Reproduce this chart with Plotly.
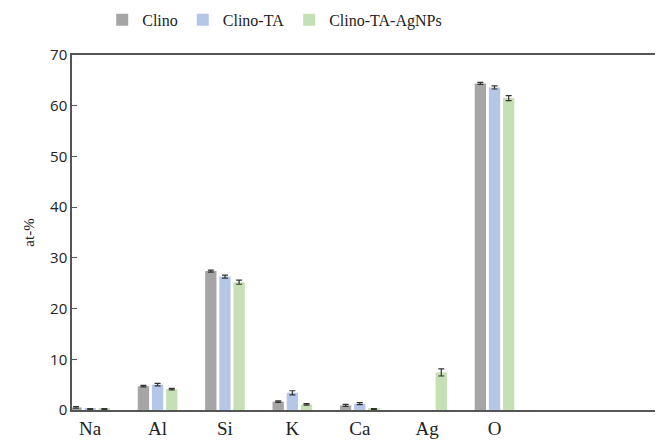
import plotly.graph_objects as go

elements = ["Na", "Al", "Si", "K", "Ca", "Ag", "O"]
series_names = ["Clino", "Clino-TA", "Clino-TA-AgNPs"]
clino = [0.5, 4.7, 27.4, 1.65, 0.9, None, 64.4]
clino_err = [0.15, 0.15, 0.2, 0.15, 0.2, None, 0.2]
clino_ta = [0.2, 5.0, 26.3, 3.4, 1.25, None, 63.6]
clino_ta_err = [0.1, 0.25, 0.3, 0.4, 0.2, None, 0.3]
clino_ag = [0.2, 4.1, 25.2, 1.1, 0.2, 7.4, 61.5]
clino_ag_err = [0.1, 0.15, 0.4, 0.15, 0.1, 0.7, 0.5]
y_ticks = [0, 10, 20, 30, 40, 50, 60, 70]

colors = ["#a5a5a5", "#b4c7e7", "#c5e0b4"]
values = [clino, clino_ta, clino_ag]
errors = [clino_err, clino_ta_err, clino_ag_err]

fig = go.Figure()
xpos = list(range(len(elements)))
for name, v, e, c in zip(series_names, values, errors, colors):
    fig.add_trace(go.Bar(
        x=xpos, y=v, name=name, marker=dict(color=c, line=dict(width=0)),
        error_y=dict(type="data", array=e, visible=True, color="#333333",
                     thickness=1.2, width=3),
    ))

# page body has an 8px margin; compensate so the plot lands where the reference has it
fig.update_layout(
    width=655, height=433,
    margin=dict(l=64, r=0, t=47, b=31, autoexpand=False),
    paper_bgcolor="white", plot_bgcolor="white",
    barmode="group", bargap=0.37, bargroupgap=0.2,
    legend=dict(orientation="h", x=0.343, xanchor="center", y=1.099, yanchor="middle",
                font=dict(family="Liberation Serif", size=16, color="#222222"),
                itemwidth=30, traceorder="normal"),
    xaxis=dict(range=[-0.27, 8.5], tickvals=xpos, ticktext=elements,
               showgrid=False, zeroline=False, showline=True, linecolor="#555555",
               linewidth=1.5, mirror=True, ticks="", automargin=False,
               ticklabelstandoff=0,
               tickfont=dict(family="Liberation Serif", size=19, color="#222222")),
    yaxis=dict(range=[0, 70], tickvals=y_ticks, showgrid=False, zeroline=False,
               showline=True, linecolor="#555555", linewidth=1.5, automargin=False,
               ticks="inside", ticklen=5, tickcolor="#555555",
               tickfont=dict(family="Open Sans", size=15, color="#222222"),
               title=dict(text="at-%", font=dict(family="Liberation Serif", size=15, color="#222222"),
                          standoff=12)),
)

fig.write_html("out.html")
